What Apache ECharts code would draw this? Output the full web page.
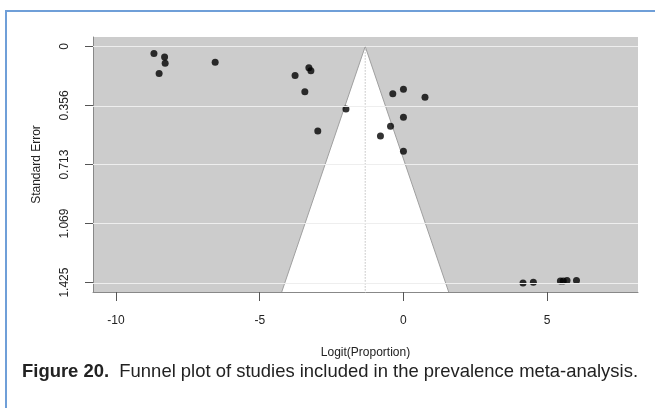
<!DOCTYPE html>
<html>
<head>
<meta charset="utf-8">
<script src="https://cdn.jsdelivr.net/npm/echarts@6/dist/echarts.min.js"></script>
<style>
  html, body { margin: 0; padding: 0; background: #ffffff; }
  #chart { width: 655px; height: 408px; }
</style>
</head>
<body>
<div id="chart"></div>
<script>
// Study estimates: logit(proportion) and their standard errors
const logitValues = [
  -8.68, -8.31, -8.29, -8.50, -6.55,
  -3.77, -3.29, -3.22, -3.43, -2.00, -2.98,
  -0.37, 0.00, 0.75, 0.00, -0.45, -0.80, 0.00,
  4.16, 4.52, 5.46, 5.56, 5.69, 6.02
];
const standardErrors = [
  0.042, 0.063, 0.102, 0.163, 0.096,
  0.175, 0.129, 0.147, 0.274, 0.378, 0.511,
  0.286, 0.259, 0.307, 0.428, 0.482, 0.541, 0.633,
  1.427, 1.423, 1.416, 1.416, 1.413, 1.413
];
// Axis ticks
const xTicks = [-10, -5, 0, 5];
const seTicks = [0, 0.356, 0.713, 1.069, 1.425];
// Pooled estimate (funnel centre) and pseudo-confidence multiplier
const pooledEstimate = -1.33;
const zCrit = 1.96;

// Axis ranges padded by 4% like base graphics
const seMax = 1.425;
const seMin = -0.04 * seMax;
const seLimit = seMax * 1.04;
const xMin = -10.8, xMax = 8.16;

const points = logitValues.map((x, i) => [x, standardErrors[i]]);

// Caption, set in a horizontally condensed sans face
const captionBold = 'Figure 20.';
const captionText = '  Funnel plot of studies included in the prevalence meta-analysis.';
const captionFont = 'Liberation Sans, Arial, sans-serif';
const captionSize = 19;
const captionWidth = 616;
const ctx = document.createElement('canvas').getContext('2d');
ctx.font = 'bold ' + captionSize + 'px ' + captionFont;
let w = ctx.measureText(captionBold).width;
ctx.font = captionSize + 'px ' + captionFont;
w += ctx.measureText(captionText).width;
const captionScale = captionWidth / w;

const chart = echarts.init(document.getElementById('chart'));

const option = {
  animation: false,
  backgroundColor: '#ffffff',
  textStyle: { fontFamily: 'Liberation Sans, Arial, sans-serif' },
  grid: {
    left: 93, right: 17, top: 37, bottom: 116,
    show: true, backgroundColor: '#cccccc', borderWidth: 0
  },
  xAxis: {
    type: 'value', min: xMin, max: xMax,
    name: 'Logit(Proportion)', nameLocation: 'middle', nameGap: 55,
    nameTextStyle: { fontSize: 12, color: '#222' },
    axisLine: { show: true, onZero: false, lineStyle: { color: '#888', width: 1 } },
    axisTick: { show: true, customValues: xTicks, length: 9, lineStyle: { color: '#555' } },
    axisLabel: { customValues: xTicks, margin: 23, fontSize: 12, color: '#222' },
    splitLine: { show: false }
  },
  yAxis: {
    type: 'value', min: seMin, max: seLimit, inverse: true,
    name: 'Standard Error', nameLocation: 'middle', nameGap: 50,
    nameTextStyle: { fontSize: 12, color: '#222' },
    axisLine: { show: true, onZero: false, lineStyle: { color: '#888', width: 1 } },
    axisTick: { show: true, customValues: seTicks, length: 8, lineStyle: { color: '#555' } },
    axisLabel: {
      customValues: seTicks, rotate: 90, margin: 22, fontSize: 12, color: '#222',
      formatter: v => String(v)
    },
    splitLine: { show: false }
  },
  series: [
    {
      // horizontal reference lines at the SE ticks
      type: 'line', data: [], silent: true, z: 1,
      markLine: {
        silent: true, symbol: 'none', label: { show: false },
        lineStyle: { color: '#eeeeee', width: 1, type: 'solid' },
        data: seTicks.map(v => ({ yAxis: v }))
      }
    },
    {
      // pseudo 95% confidence funnel
      type: 'custom', z: 2, silent: true,
      data: [[pooledEstimate, seLimit]],
      renderItem: function (params, api) {
        const apex = api.coord([pooledEstimate, 0]);
        const left = api.coord([pooledEstimate - zCrit * seLimit, seLimit]);
        const right = api.coord([pooledEstimate + zCrit * seLimit, seLimit]);
        const base = api.coord([pooledEstimate, seLimit]);
        return {
          type: 'group',
          children: [
            {
              type: 'polygon',
              shape: { points: [apex, left, right] },
              style: { fill: '#ffffff', stroke: null }
            },
            {
              type: 'polyline',
              shape: { points: [left, apex, right] },
              style: { stroke: '#a0a0a0', lineWidth: 1, fill: null }
            },
            {
              type: 'line',
              shape: { x1: apex[0], y1: apex[1], x2: base[0], y2: base[1] },
              style: { stroke: '#a0a0a0', lineWidth: 1, lineDash: [1, 2] }
            }
          ]
        };
      }
    },
    {
      type: 'scatter', z: 3,
      data: points,
      symbol: 'circle', symbolSize: 7,
      itemStyle: { color: '#000000' }
    }
  ],
  graphic: [
    {
      type: 'line', silent: true,
      shape: { x1: 5, y1: 11, x2: 655, y2: 11 },
      style: { stroke: '#6f9fd8', lineWidth: 2 }
    },
    {
      type: 'line', silent: true,
      shape: { x1: 6, y1: 10, x2: 6, y2: 408 },
      style: { stroke: '#6f9fd8', lineWidth: 2 }
    },
    {
      type: 'text', x: 22, y: 372, scaleX: captionScale, silent: true,
      style: {
        verticalAlign: 'middle',
        rich: {
          b: { fontFamily: captionFont, fontWeight: 'bold', fontSize: captionSize, fill: '#222' },
          n: { fontFamily: captionFont, fontSize: captionSize, fill: '#222' }
        },
        text: '{b|' + captionBold + '}{n|' + captionText + '}'
      }
    }
  ]
};

chart.setOption(option);
</script>
</body>
</html>
